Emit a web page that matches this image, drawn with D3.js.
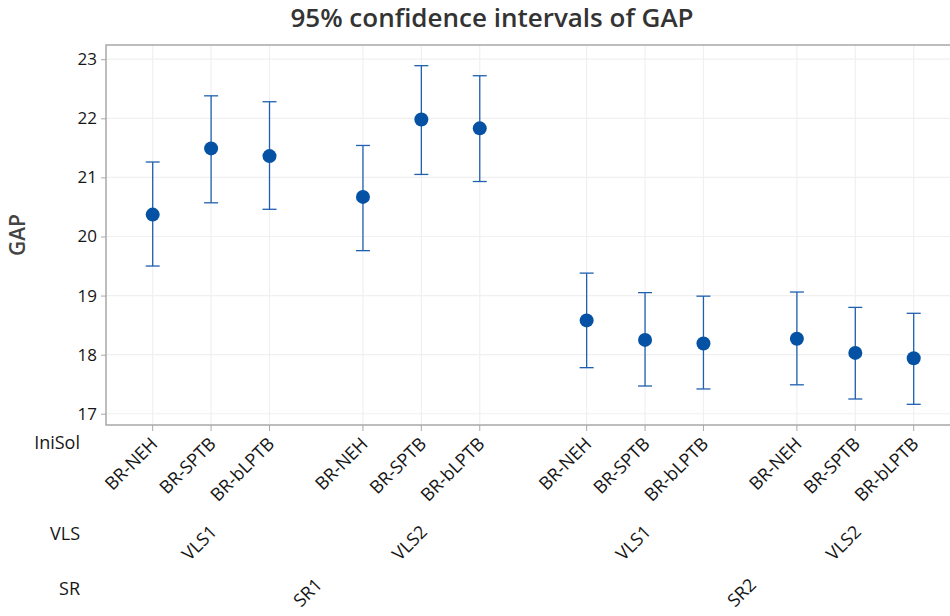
<!DOCTYPE html>
<html>
<head>
<meta charset="utf-8">
<script src="https://cdn.jsdelivr.net/npm/d3@7"></script>
<style>
  body { margin: 0; background: #fff; }
  text { font-family: "Open Sans", "Noto Sans", sans-serif; }
</style>
</head>
<body>
<script>
// data
var srLevels = ["SR1", "SR2"]
var vlsLevels = ["VLS1", "VLS2"]
var iniSolLevels = ["BR-NEH", "BR-SPTB", "BR-bLPTB"]
var means = [20.37, 21.49, 21.36, 20.67, 21.98, 21.83, 18.58, 18.25, 18.19, 18.27, 18.03, 17.94]
var lowers = [19.50, 20.57, 20.46, 19.76, 21.05, 20.93, 17.78, 17.47, 17.42, 17.49, 17.25, 17.16]
var uppers = [21.26, 22.38, 22.28, 21.54, 22.89, 22.72, 19.38, 19.05, 18.99, 19.06, 18.80, 18.70]
var yTicks = [17, 18, 19, 20, 21, 22, 23]

var screen = {width: 950, height: 616}
var plot = {left: 106, top: 45, right: 960, bottom: 425}
var vlsStep = 3.6, srStep = 7.43
var ink = "#161616"

// build rows
var rows = []
srLevels.forEach(function(s, si) {
  vlsLevels.forEach(function(v, vi) {
    iniSolLevels.forEach(function(n, ni) {
      var k = rows.length
      rows.push({sr: s, vls: v, ini: n, pos: ni + vi*vlsStep + si*srStep,
                 mean: means[k], lo: lowers[k], hi: uppers[k]})
    })
  })
})

var xScale = d3.scaleLinear()
  .domain([0, 2 + vlsStep + srStep])
  .range([152.7, 913.7])

var yScale = d3.scaleLinear()
  .domain([16.81, 23.24])
  .range([plot.bottom, plot.top])

var svg = d3.select("body").append("svg")
  .attr("width", screen.width)
  .attr("height", screen.height)

// title
svg.append("text")
  .attr("x", 492).attr("y", 27)
  .attr("text-anchor", "middle")
  .style("font-size", "26px").style("font-weight", "600")
  .attr("fill", "#333")
  .text("95% confidence intervals of GAP")

// grid
var grid = svg.append("g").attr("id", "grid")
grid.selectAll(".hg").data(yTicks).enter().append("line")
  .attr("x1", plot.left).attr("x2", plot.right)
  .attr("y1", function(d) { return yScale(d) }).attr("y2", function(d) { return yScale(d) })
  .attr("stroke", "#f0f0f0").attr("stroke-width", 1.2)
grid.selectAll(".vg").data(rows).enter().append("line")
  .attr("x1", function(d) { return xScale(d.pos) }).attr("x2", function(d) { return xScale(d.pos) })
  .attr("y1", plot.top).attr("y2", plot.bottom)
  .attr("stroke", "#f0f0f0").attr("stroke-width", 1.2)

// frame
svg.append("path")
  .attr("d", "M" + plot.right + "," + plot.top + "H" + plot.left + "V" + plot.bottom + "H" + plot.right)
  .attr("fill", "none").attr("stroke", "#a8a8a8").attr("stroke-width", 1.5)

// y axis
var yAxis = d3.axisLeft(yScale).tickValues(yTicks).tickFormat(d3.format("d")).tickSize(5).tickPadding(4)
var ya = svg.append("g").attr("transform", "translate(" + plot.left + ",0)").call(yAxis)
ya.select(".domain").remove()
ya.selectAll("line").attr("stroke", "#a8a8a8")
ya.selectAll("text").style("font-size", "17px").style("font-family", "'Open Sans', sans-serif").attr("fill", ink)

svg.append("text")
  .attr("transform", "translate(25,235) rotate(-90)")
  .attr("text-anchor", "middle")
  .style("font-size", "21px").style("font-weight", "600")
  .attr("fill", "#444")
  .text("GAP")

// x ticks
svg.selectAll(".xt").data(rows).enter().append("line")
  .attr("x1", function(d) { return xScale(d.pos) }).attr("x2", function(d) { return xScale(d.pos) })
  .attr("y1", plot.bottom).attr("y2", plot.bottom + 6)
  .attr("stroke", "#a8a8a8")

svg.selectAll(".xl").data(rows).enter().append("text")
  .attr("transform", function(d) { return "translate(" + (xScale(d.pos) + 6) + "," + (plot.bottom + 20) + ") rotate(-45)" })
  .attr("text-anchor", "end")
  .style("font-size", "18px").attr("fill", ink)
  .text(function(d) { return d.ini })

// VLS group labels
var vlsGroups = d3.groups(rows, function(d) { return d.sr + d.vls })
svg.selectAll(".vl").data(vlsGroups).enter().append("text")
  .attr("transform", function(g) {
    var c = d3.mean(g[1], function(d) { return xScale(d.pos) })
    return "translate(" + (c + 7) + ",533) rotate(-45)"
  })
  .attr("text-anchor", "end")
  .style("font-size", "18px").attr("fill", ink)
  .text(function(g) { return g[1][0].vls })

// SR group labels
var srGroups = d3.groups(rows, function(d) { return d.sr })
svg.selectAll(".sl").data(srGroups).enter().append("text")
  .attr("transform", function(g) {
    var ext = d3.extent(g[1], function(d) { return xScale(d.pos) })
    return "translate(" + ((ext[0] + ext[1]) / 2 + 7) + ",586) rotate(-45)"
  })
  .attr("text-anchor", "end")
  .style("font-size", "18px").attr("fill", ink)
  .text(function(g) { return g[0] })

// row names
var rowNames = [["IniSol", 449], ["VLS", 540], ["SR", 595]]
svg.selectAll(".rn").data(rowNames).enter().append("text")
  .attr("x", 80).attr("y", function(d) { return d[1] })
  .attr("text-anchor", "end")
  .style("font-size", "18px").attr("fill", ink)
  .text(function(d) { return d[0] })

// intervals
var bars = svg.append("g").attr("id", "intervals")
bars.selectAll(".ci").data(rows).enter().append("line")
  .attr("x1", function(d) { return xScale(d.pos) }).attr("x2", function(d) { return xScale(d.pos) })
  .attr("y1", function(d) { return yScale(d.lo) }).attr("y2", function(d) { return yScale(d.hi) })
  .attr("stroke", "#1f60b0").attr("stroke-width", 1.3)
bars.selectAll(".capHi").data(rows).enter().append("line")
  .attr("x1", function(d) { return xScale(d.pos) - 7 }).attr("x2", function(d) { return xScale(d.pos) + 7 })
  .attr("y1", function(d) { return yScale(d.hi) }).attr("y2", function(d) { return yScale(d.hi) })
  .attr("stroke", "#1f60b0").attr("stroke-width", 1.3)
bars.selectAll(".capLo").data(rows).enter().append("line")
  .attr("x1", function(d) { return xScale(d.pos) - 7 }).attr("x2", function(d) { return xScale(d.pos) + 7 })
  .attr("y1", function(d) { return yScale(d.lo) }).attr("y2", function(d) { return yScale(d.lo) })
  .attr("stroke", "#1f60b0").attr("stroke-width", 1.3)

bars.selectAll("circle").data(rows).enter().append("circle")
  .attr("cx", function(d) { return xScale(d.pos) })
  .attr("cy", function(d) { return yScale(d.mean) })
  .attr("r", 7)
  .attr("fill", "#0552a5")
</script>
</body>
</html>
